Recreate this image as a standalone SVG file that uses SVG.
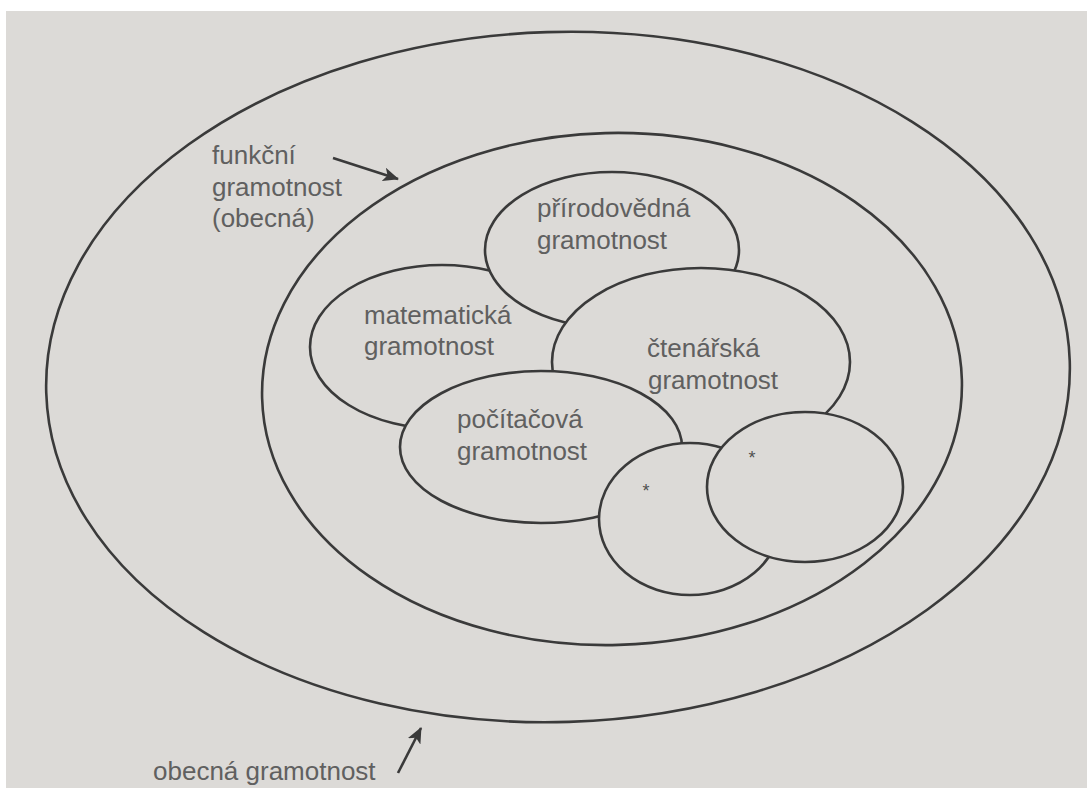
<svg xmlns="http://www.w3.org/2000/svg" width="1087" height="788" viewBox="0 0 1087 788">
<defs>
<style>
.ln{fill:none;stroke:#3a3a3a;stroke-width:2.6}
.bub{fill:#dcdad7;stroke:#3a3a3a;stroke-width:2.6}
.tx{font-family:"Liberation Sans",Arial,sans-serif;font-size:26px;fill:#606060}
.st{font-family:"Liberation Sans",Arial,sans-serif;font-size:18px;fill:#505050;text-anchor:middle}
</style>
<marker id="ah" markerUnits="userSpaceOnUse" markerWidth="18" markerHeight="14" refX="15" refY="7" orient="auto">
<path d="M0,0 L16,7 L0,14 L4,7 Z" fill="#3a3a3a"/>
</marker>
</defs>
<rect x="0" y="0" width="1087" height="788" fill="#ffffff"/>
<rect x="6" y="11" width="1081" height="777" fill="#dcdad7"/>
<g id="obecna">
<ellipse class="ln" cx="558" cy="377" rx="512" ry="345" transform="rotate(-1.8 558 377)"/>
</g>
<g id="funkcni">
<ellipse class="ln" cx="612" cy="389" rx="350" ry="256" transform="rotate(-1.5 612 389)"/>
</g>
<g id="matematicka">
<ellipse class="bub" cx="442" cy="347" rx="132" ry="82"/>
<text class="tx" x="364" y="324">matematická</text>
<text class="tx" x="364" y="355">gramotnost</text>
</g>
<g id="prirodovedna">
<ellipse class="bub" cx="612" cy="250" rx="127" ry="78"/>
<text class="tx" x="537" y="217">přírodovědná</text>
<text class="tx" x="537" y="249">gramotnost</text>
</g>
<g id="ctenarska">
<ellipse class="bub" cx="701" cy="362" rx="149" ry="94"/>
<text class="tx" x="647" y="357">čtenářská</text>
<text class="tx" x="648" y="389">gramotnost</text>
</g>
<g id="pocitacova">
<ellipse class="bub" cx="541" cy="447" rx="141" ry="76"/>
<text class="tx" x="457" y="428">počítačová</text>
<text class="tx" x="457" y="460">gramotnost</text>
</g>
<g id="hvezda1">
<ellipse class="bub" cx="690" cy="519" rx="91" ry="76"/>
<text class="st" x="646" y="497">*</text>
</g>
<g id="hvezda2">
<ellipse class="bub" cx="805" cy="487" rx="98" ry="75"/>
<text class="st" x="752" y="464">*</text>
</g>
<g id="label-funkcni">
<text class="tx" x="212" y="164">funkční</text>
<text class="tx" x="212" y="196">gramotnost</text>
<text class="tx" x="212" y="227">(obecná)</text>
</g>
<g id="label-obecna">
<text class="tx" x="153" y="780">obecná gramotnost</text>
</g>
<g id="connectors">
<line class="ln" x1="333" y1="158" x2="398" y2="179" marker-end="url(#ah)"/>
<line class="ln" x1="398" y1="773" x2="421" y2="728" marker-end="url(#ah)"/>
</g>
</svg>
